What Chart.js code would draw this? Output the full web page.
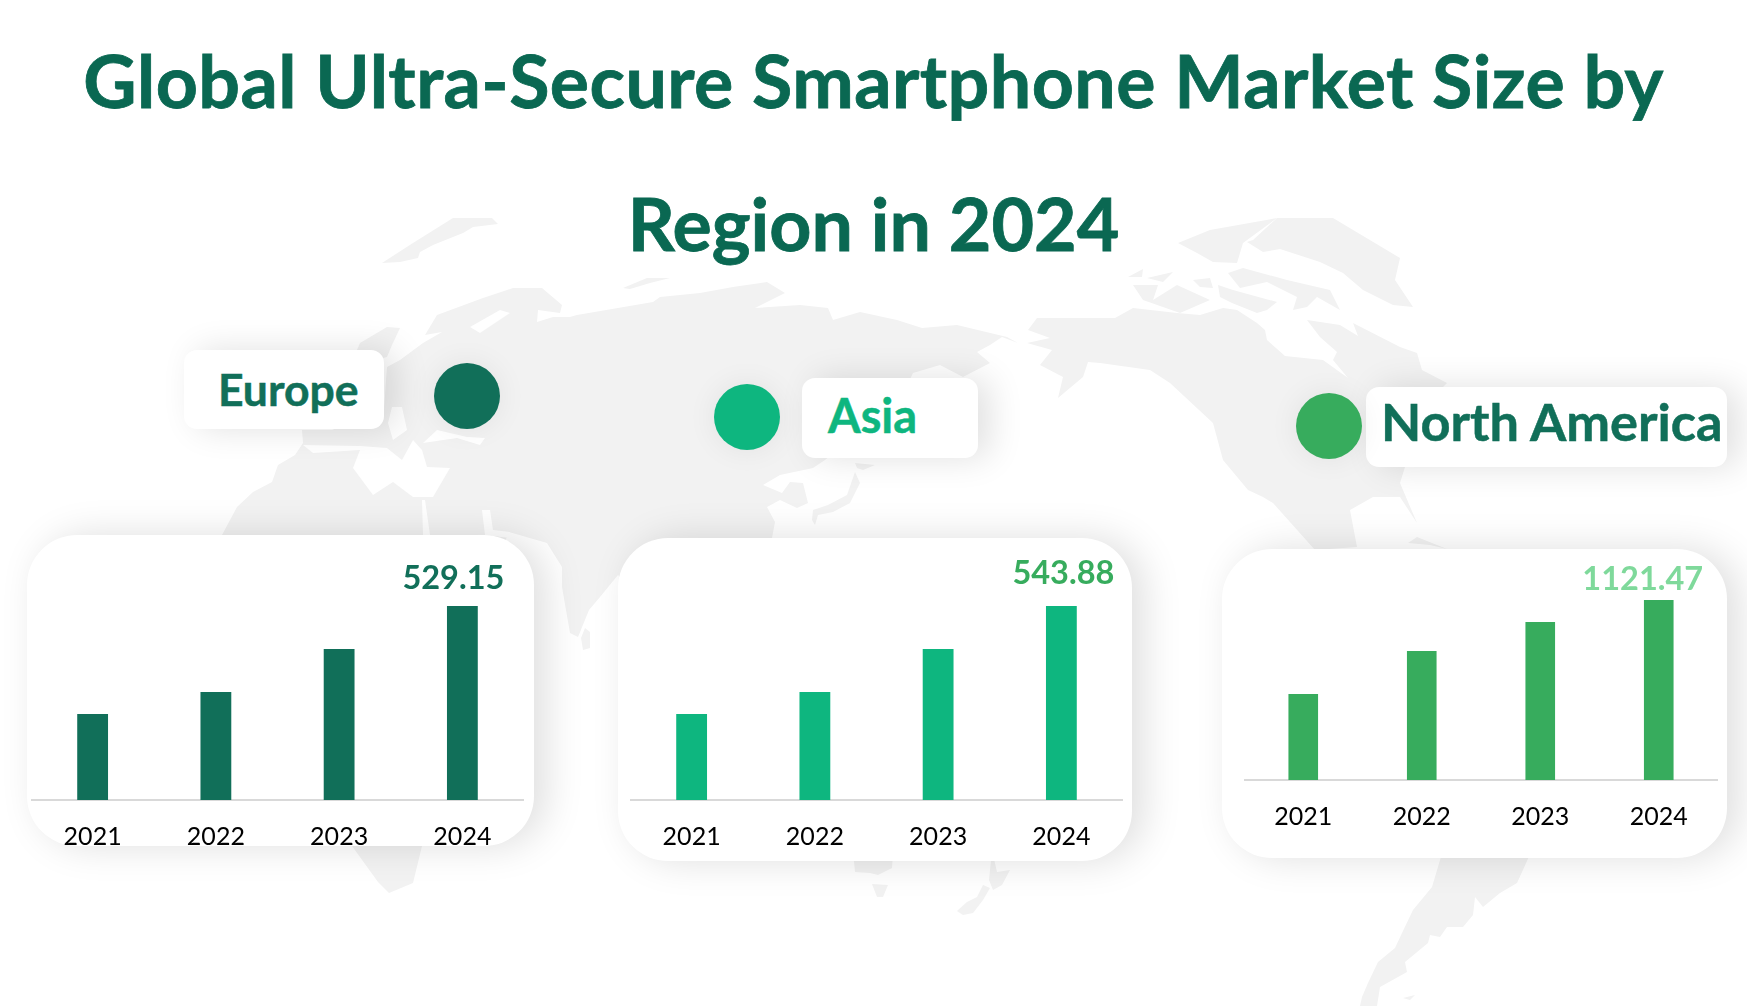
<!DOCTYPE html>
<html>
<head>
<meta charset="utf-8">
<title>Global Ultra-Secure Smartphone Market Size by Region in 2024</title>
<script src="https://cdn.jsdelivr.net/npm/chart.js@4"></script>
<style>
    html, body { margin: 0; padding: 0; background: #fff; }
    body { width: 1747px; height: 1006px; position: relative; overflow: hidden; font-family: Lato, sans-serif; }
    #map { position: absolute; left: 0; top: 0; }
    #map .land { fill: #f2f2f2; }
    #map .sea { fill: #fff; }
    .title { position: absolute; left: 0; width: 1747px; text-align: center; font-weight: 700; font-size: 73.5px; line-height: 80px; color: #0a6852; white-space: nowrap; -webkit-text-stroke: .8px #0a6852; }
    .card { position: absolute; background: #fff; border-radius: 50px; box-shadow: 12px 0 38px rgba(0,0,0,.13); }
    .pill { position: absolute; background: #fff; border-radius: 13px; box-shadow: 12px 0 34px rgba(0,0,0,.12); }
    .pill-text { position: absolute; font-weight: 700; line-height: 50px; white-space: nowrap; -webkit-text-stroke: .5px currentColor; }
    .dot { position: absolute; width: 66px; height: 66px; border-radius: 50%; box-shadow: 0 0 30px rgba(0,0,0,.07); }
    canvas { position: absolute; }
</style>
</head>
<body>

<svg id="map" width="1747" height="1006" viewBox="0 0 1747 1006">
    <!-- fondo decorativo, contorno aproximado -->
    <polygon class="land" points="453,218 492,218 498,224 473,227 463,233 433,245 420,252 418,258 400,262 382,263 413,243"/>
    <polygon class="land" points="360,343 387,327 400,328 392,345 387,357 375,360 357,350"/>
    <polygon class="land" points="623,288 647,278 670,278 650,283 630,289"/>
    <polygon class="land" points="222,535 237,507 253,492 272,482 278,465 295,455 303,443 302,430 332,430 384,410 387,367 400,360 423,343 442,332 425,335 437,315 483,298 513,288 542,288 562,305 560,313 538,310 537,322 553,317 570,317 577,315 653,302 660,297 700,293 733,287 767,282 785,293 755,308 800,305 828,308 833,320 860,312 897,320 922,328 957,325 1007,337 1018,343 1002,337 990,345 977,352 990,363 963,377 940,365 913,373 900,400 825,460 813,468 780,475 763,485 782,493 790,482 803,483 808,503 797,508 780,500 767,507 775,522 772,538 640,600 618,575 600,597 589,610 578,637 570,633 562,587 562,567 547,543 509,532 480,600 440,700 422,846 413,883 389,893 378,882 352,846 300,700 222,560"/>
    <polygon class="sea" points="303,445 313,453 360,450 353,468 373,495 393,482 413,497 433,497 450,468 427,467 422,450 413,440 402,460 387,448 360,446"/>
    <polygon class="sea" points="437,430 467,437 485,438 480,445 457,438 423,443"/>
    <polygon class="sea" points="392,407 402,407 407,430 393,440 388,423"/>
    <polygon class="sea" points="470,327 500,310 510,313 480,333"/>
    <polygon class="sea" points="422,500 425,500 430,535 423,535"/>
    <polygon class="sea" points="482,510 490,510 493,530 510,532 510,538 485,535"/>
    <polygon class="land" points="585,628 590,632 590,648 583,650 581,638"/>
    <polygon class="land" points="812,520 815,525 818,515 833,512 850,503 860,483 855,472 847,495 828,505 813,510"/>
    <polygon class="land" points="855,463 875,465 863,470 857,468"/>
    <polygon class="land" points="852,840 855,872 870,873 878,875 892,868 894,840"/>
    <polygon class="land" points="872,884 888,885 883,897 877,897"/>
    <polygon class="land" points="992,850 997,872 1010,870 1002,885 993,890 989,880"/>
    <polygon class="land" points="983,885 990,888 983,900 973,913 963,915 957,911 967,902 977,897"/>
    <polygon class="land" points="1028,330 1037,318 1115,318 1133,308 1177,313 1200,315 1223,308 1237,310 1257,323 1265,330 1267,340 1285,356 1323,360 1348,378 1333,360 1337,352 1320,337 1307,320 1340,325 1358,336 1353,323 1400,347 1417,353 1422,370 1447,383 1430,400 1405,467 1400,483 1417,523 1400,497 1373,497 1350,510 1357,547 1315,550 1273,503 1263,497 1248,490 1223,460 1213,423 1170,383 1150,370 1100,363 1088,362 1083,377 1058,398 1063,377 1040,365 1052,350 1027,343 1050,338"/>
    <polygon class="land" points="1133,285 1158,285 1153,300 1177,285 1210,300 1180,313 1143,300"/>
    <polygon class="land" points="1128,277 1143,269 1142,277"/>
    <polygon class="land" points="1147,278 1173,272 1163,282"/>
    <polygon class="land" points="1193,280 1210,278 1213,288 1200,287"/>
    <polygon class="land" points="1178,243 1210,230 1277,218 1243,243 1237,263 1213,262 1197,253"/>
    <polygon class="land" points="1228,273 1243,268 1287,280 1330,290 1340,310 1317,297 1307,307 1293,310 1297,297 1267,282 1240,288"/>
    <polygon class="land" points="1218,285 1233,290 1277,302 1267,310 1257,313 1232,303 1220,297"/>
    <polygon class="land" points="1253,240 1277,218 1333,218 1400,258 1395,280 1413,307 1393,305 1363,290 1343,273 1320,262 1280,249 1263,252 1247,242"/>
    <polygon class="land" points="1408,543 1417,537 1447,549 1430,545"/>
    <polygon class="land" points="1443,850 1432,887 1413,910 1402,933 1395,948 1378,962 1368,983 1362,997 1360,1006 1377,1006 1380,987 1407,972 1405,962 1428,943 1430,935 1440,937 1447,927 1463,927 1473,915 1475,897 1483,907 1500,893 1517,883 1532,850"/>
    <polygon class="land" points="1403,998 1415,995 1410,1000"/>
</svg>

<div class="title" style="top:40px;letter-spacing:.45px">Global Ultra-Secure Smartphone Market Size by</div>
<div class="title" style="top:183px">Region in 2024</div>

<div class="pill" style="left:184px;top:350px;width:200px;height:79px"></div>
<div class="pill" style="left:802px;top:378px;width:176px;height:80px"></div>
<div class="pill" style="left:1366px;top:387px;width:361px;height:80px"></div>

<div class="pill-text" style="left:218px;top:364px;font-size:44.5px;color:#116f59">Europe</div>
<div class="pill-text" style="left:828px;top:390px;font-size:47px;color:#0eb67f">Asia</div>
<div class="pill-text" style="left:1381px;top:396px;font-size:52.3px;color:#116f59">North America</div>

<div class="dot" style="left:434px;top:363px;background:#116f59"></div>
<div class="dot" style="left:714px;top:384px;background:#0eb67f"></div>
<div class="dot" style="left:1296px;top:393px;background:#37ac5d"></div>

<div class="card" style="left:27px;top:535px;width:507px;height:311px"></div>
<div class="card" style="left:618px;top:538px;width:514px;height:323px"></div>
<div class="card" style="left:1222px;top:549px;width:505px;height:309px"></div>

<canvas id="chartEurope" style="left:31px;top:540px" width="493" height="310"></canvas>
<canvas id="chartAsia" style="left:629.5px;top:540px" width="493" height="310"></canvas>
<canvas id="chartNorthAmerica" style="left:1244px;top:540px" width="474" height="290"></canvas>

<script>
const categories = ['2021', '2022', '2023', '2024'];
const europeValues = [234.5, 294.6, 411.9, 529.15];
const asiaValues = [241.0, 302.8, 423.3, 543.88];
const northAmericaValues = [535.8, 803.7, 984.4, 1121.47];

// only the last bar carries a label in the picture
const lastBarLabel = {
    id: 'lastBarLabel',
    afterDatasetsDraw(chart, args, opts) {
        const ctx = chart.ctx;
        const meta = chart.getDatasetMeta(0);
        const bar = meta.data[meta.data.length - 1];
        const value = chart.data.datasets[0].data[meta.data.length - 1];

        ctx.save();
        ctx.font = '700 32.5px Lato';
        ctx.fillStyle = opts.color;
        ctx.textAlign = 'center';
        ctx.textBaseline = 'alphabetic';
        ctx.fillText(value.toFixed(2), bar.x + opts.dx, bar.y - opts.dy);
        ctx.restore();
    }
};

function drawBars(id, values, color, yMax, labelColor, dx, dy) {
    new Chart(document.getElementById(id), {
        type: 'bar',
        data: {
            labels: categories,
            datasets: [{
                data: values,
                backgroundColor: color,
                barPercentage: 0.25,
                categoryPercentage: 1
            }]
        },
        options: {
            responsive: false,
            animation: false,
            layout: { padding: { top: 20, left: 0, right: 0, bottom: 0 } },
            plugins: {
                legend: { display: false },
                tooltip: { enabled: false },
                lastBarLabel: { color: labelColor, dx: dx, dy: dy }
            },
            scales: {
                x: {
                    grid: { display: false, drawTicks: false },
                    border: { color: '#d9d9d9', width: 2 },
                    ticks: {
                        color: '#000',
                        font: { family: 'Lato', size: 25 },
                        padding: 22,
                        maxRotation: 0
                    },
                    afterFit(scale) { scale.height = 50; }
                },
                y: { display: false, min: 0, max: yMax }
            }
        },
        plugins: [lastBarLabel]
    });
}

drawBars('chartEurope', europeValues, '#116f59', 654.6, '#116f59', -9, 17);
drawBars('chartAsia', asiaValues, '#0eb67f', 672.8, '#37ac5d', 2, 22);
drawBars('chartNorthAmerica', northAmericaValues, '#37ac5d', 1370.7, '#7fd99b', -16, 10);
</script>
</body>
</html>
